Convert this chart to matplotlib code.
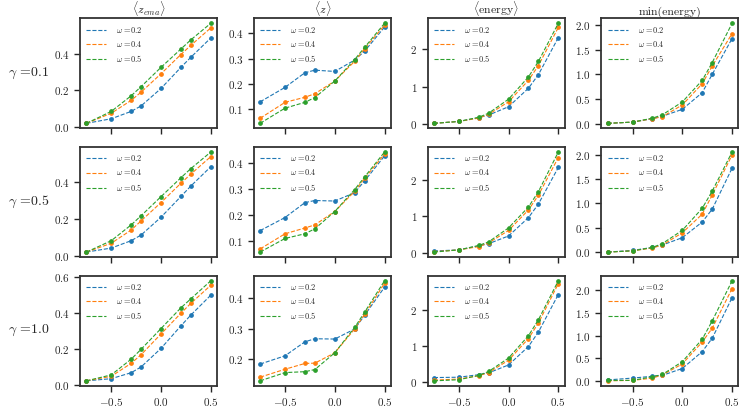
import matplotlib
matplotlib.use("Agg")
import matplotlib.pyplot as plt
from matplotlib.lines import Line2D
from matplotlib.ticker import MultipleLocator
import seaborn as sns

x = [-0.75, -0.5, -0.3, -0.2, 0.0, 0.2, 0.3, 0.5]
omegas = ["0.2", "0.4", "0.5"]
gammas = ["0.1", "0.5", "1.0"]
titles = [r"$\langle z_{ema} \rangle$", r"$\langle z \rangle$",
          r"$\langle$energy$\rangle$", "min(energy)"]
ytick_steps = [0.2, 0.1, 1.0, 0.5]

# gamma = 0.1
g01_zema = [[0.02, 0.045, 0.085, 0.115, 0.21, 0.325, 0.38, 0.485],
            [0.02, 0.075, 0.145, 0.19, 0.29, 0.395, 0.445, 0.54],
            [0.02, 0.085, 0.17, 0.22, 0.325, 0.425, 0.475, 0.565]]
g01_z = [[0.13, 0.187, 0.245, 0.255, 0.25, 0.295, 0.33, 0.425],
         [0.065, 0.128, 0.148, 0.162, 0.212, 0.29, 0.34, 0.432],
         [0.045, 0.105, 0.128, 0.147, 0.212, 0.297, 0.345, 0.44]]
g01_energy = [[0.03, 0.08, 0.18, 0.25, 0.47, 0.96, 1.32, 2.3],
              [0.03, 0.08, 0.17, 0.27, 0.6, 1.17, 1.56, 2.57],
              [0.03, 0.08, 0.19, 0.3, 0.67, 1.26, 1.67, 2.68]]
g01_minenergy = [[0.005, 0.03, 0.1, 0.15, 0.29, 0.63, 1.0, 1.73],
                 [0.005, 0.03, 0.1, 0.14, 0.38, 0.81, 1.17, 1.83],
                 [0.005, 0.03, 0.11, 0.18, 0.44, 0.88, 1.24, 2.04]]

# gamma = 0.5
g05_zema = [[0.02, 0.042, 0.082, 0.113, 0.21, 0.323, 0.38, 0.485],
            [0.02, 0.068, 0.14, 0.19, 0.29, 0.395, 0.445, 0.54],
            [0.02, 0.082, 0.168, 0.218, 0.322, 0.425, 0.475, 0.565]]
g05_z = [[0.14, 0.19, 0.247, 0.255, 0.253, 0.285, 0.33, 0.425],
         [0.07, 0.128, 0.15, 0.162, 0.213, 0.29, 0.34, 0.432],
         [0.058, 0.11, 0.128, 0.147, 0.213, 0.297, 0.345, 0.44]]
g05_energy = [[0.05, 0.08, 0.19, 0.25, 0.46, 0.96, 1.33, 2.33],
              [0.03, 0.08, 0.17, 0.27, 0.61, 1.17, 1.57, 2.6],
              [0.02, 0.08, 0.2, 0.3, 0.68, 1.25, 1.67, 2.75]]
g05_minenergy = [[0.005, 0.04, 0.1, 0.15, 0.3, 0.62, 0.88, 1.72],
                 [0.005, 0.03, 0.09, 0.15, 0.4, 0.78, 1.17, 1.99],
                 [0.005, 0.03, 0.1, 0.18, 0.45, 0.9, 1.25, 2.05]]

# gamma = 1.0
g10_zema = [[0.025, 0.037, 0.07, 0.102, 0.205, 0.33, 0.39, 0.5],
            [0.025, 0.05, 0.122, 0.17, 0.285, 0.4, 0.455, 0.555],
            [0.025, 0.058, 0.145, 0.2, 0.315, 0.43, 0.48, 0.58]]
g10_z = [[0.185, 0.212, 0.258, 0.268, 0.267, 0.3, 0.345, 0.437],
         [0.142, 0.168, 0.187, 0.188, 0.222, 0.3, 0.348, 0.45],
         [0.13, 0.157, 0.16, 0.167, 0.222, 0.305, 0.355, 0.458]]
g10_energy = [[0.12, 0.13, 0.2, 0.25, 0.47, 0.98, 1.38, 2.42],
              [0.05, 0.08, 0.17, 0.26, 0.6, 1.2, 1.63, 2.72],
              [0.03, 0.06, 0.18, 0.29, 0.66, 1.28, 1.72, 2.8]]
g10_minenergy = [[0.03, 0.07, 0.11, 0.13, 0.28, 0.65, 0.94, 1.83],
                 [0.01, 0.02, 0.07, 0.14, 0.38, 0.86, 1.16, 2.03],
                 [0.02, 0.02, 0.1, 0.15, 0.43, 0.92, 1.32, 2.2]]

rows = [[g01_zema, g01_z, g01_energy, g01_minenergy],
        [g05_zema, g05_z, g05_energy, g05_minenergy],
        [g10_zema, g10_z, g10_energy, g10_minenergy]]

sns.set_theme(style="ticks")
plt.rcParams["font.family"] = "serif"
plt.rcParams["font.serif"] = ["cmr10"]
plt.rcParams["mathtext.fontset"] = "cm"
plt.rcParams["axes.formatter.use_mathtext"] = True
plt.rcParams["axes.unicode_minus"] = True

colors = ["#1f77b4", "#ff7f0e", "#2ca02c"]

fig, axes = plt.subplots(3, 4, figsize=(7.42, 4.07), dpi=100, sharex=True)
fig.subplots_adjust(left=0.108, right=0.995, top=0.955, bottom=0.052,
                    wspace=0.27, hspace=0.17)

for r in range(3):
    for c in range(4):
        ax = axes[r, c]
        handles = []
        for k in range(3):
            ax.plot(x, rows[r][c][k], linestyle="--", marker="o", markersize=2.4,
                    linewidth=0.8, color=colors[k])
            handles.append(Line2D([], [], linestyle="--", linewidth=0.8,
                                  color=colors[k]))
        ax.yaxis.set_major_locator(MultipleLocator(ytick_steps[c]))
        ax.tick_params(labelsize=8, width=1.0, length=4, color=".15")
        for s in ax.spines.values():
            s.set_linewidth(1.3)
            s.set_color(".2")
        ax.legend(handles, [r"$\omega$ =" + w for w in omegas],
                  loc="upper left", frameon=False, fontsize=6,
                  handlelength=2.4, labelspacing=0.5, borderaxespad=0.35,
                  handletextpad=1.2)
        if r == 0:
            ax.set_title(titles[c], fontsize=8.5, pad=2)
    axes[r, 0].set_ylabel(r"$\gamma$ =" + gammas[r], rotation=0, fontsize=10,
                          labelpad=18, va="center")

axes[2, 0].set_xticks([-0.5, 0.0, 0.5])
fig.savefig("out.png", dpi=100)
